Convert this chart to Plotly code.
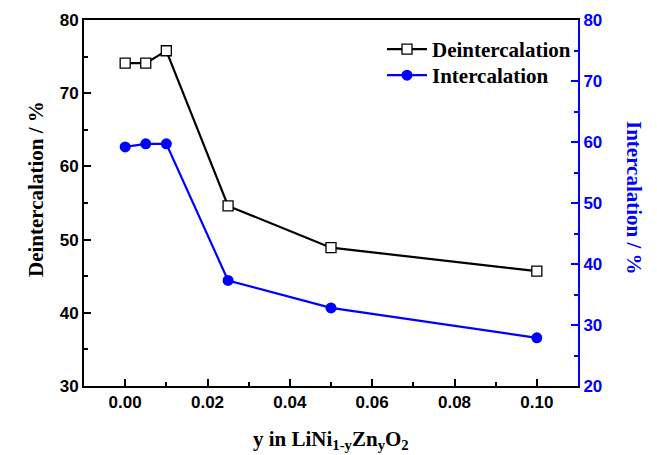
import plotly.graph_objects as go

y_frac = [0.0, 0.005, 0.01, 0.025, 0.05, 0.10]
deintercalation = [74.1, 74.1, 75.8, 54.6, 48.9, 45.7]
intercalation = [59.2, 59.7, 59.7, 37.3, 32.8, 27.9]
x_ticks = [0.00, 0.02, 0.04, 0.06, 0.08, 0.10]
y_left_ticks = [30, 40, 50, 60, 70, 80]
y_right_ticks = [20, 30, 40, 50, 60, 70, 80]

tickfont_black = dict(family="Liberation Sans", size=17, color="black")
tickfont_blue = dict(family="Liberation Sans", size=17, color="blue")
serif = "Liberation Serif"

W, H = 657, 455
L, R, T, B = 84, 79, 20, 69
pw = W - L - R
ph = H - T - B

fig = go.Figure()
fig.add_trace(go.Scatter(
    x=y_frac, y=deintercalation, name="<b>Deintercalation</b>", mode="lines+markers",
    line=dict(color="black", width=2.2),
    marker=dict(symbol="square", size=10, color="white", line=dict(color="black", width=1.3)),
    yaxis="y", legend="legend"))
fig.add_trace(go.Scatter(
    x=y_frac, y=intercalation, name="<b>Intercalation</b>", mode="lines+markers",
    line=dict(color="blue", width=2.2),
    marker=dict(symbol="circle", size=11, color="blue"),
    yaxis="y2", legend="legend2"))

leg_common = dict(xanchor="left", yanchor="top", bgcolor="rgba(0,0,0,0)",
                  font=dict(family=serif, size=21, color="black"), itemwidth=40)

fig.update_layout(
    width=W, height=H, margin=dict(l=L, r=R, t=T, b=B),
    paper_bgcolor="white", plot_bgcolor="white",
    showlegend=True,
    legend=dict(x=(382 - L) / pw, y=1 - (29 - T) / ph, **leg_common),
    legend2=dict(x=(382 - L) / pw, y=1 - (55 - T) / ph, **leg_common),
    xaxis=dict(range=[-0.01, 0.11], tickvals=x_ticks, ticktext=["<b>%.2f</b>" % v for v in x_ticks],
               ticks="inside", ticklen=7, tickwidth=1.5, tickcolor="black",
               minor=dict(ticks="inside", ticklen=4, dtick=0.01, tick0=0, tickcolor="black", tickwidth=1.5),
               showline=True, linecolor="black", linewidth=2, mirror=True,
               showgrid=False, zeroline=False, tickfont=tickfont_black),
    yaxis=dict(range=[30, 80], tickvals=y_left_ticks, ticktext=["<b>%d</b>" % v for v in y_left_ticks],
               ticks="inside", ticklen=7, tickwidth=1.5, tickcolor="black",
               minor=dict(ticks="inside", ticklen=4, dtick=5, tick0=30, tickcolor="black", tickwidth=1.5),
               showline=True, linecolor="black", linewidth=2,
               showgrid=False, zeroline=False, tickfont=tickfont_black),
    yaxis2=dict(range=[20, 80], tickvals=y_right_ticks, ticktext=["<b>%d</b>" % v for v in y_right_ticks],
                overlaying="y", side="right",
                ticks="inside", ticklen=7, tickwidth=1.5, tickcolor="blue",
                minor=dict(ticks="inside", ticklen=4, dtick=5, tick0=20, tickcolor="blue", tickwidth=1.5),
                showline=True, linecolor="blue", linewidth=2,
                showgrid=False, zeroline=False, tickfont=tickfont_blue),
    annotations=[
        dict(text="<b>Deintercalation / %</b>", xref="paper", yref="paper",
             x=(36 - L) / pw, y=1 - (189 - T) / ph, xanchor="center", yanchor="middle",
             textangle=-90, showarrow=False,
             font=dict(family=serif, size=21, color="black")),
        dict(text="<b>Intercalation / %</b>", xref="paper", yref="paper",
             x=(634 - L) / pw, y=1 - (198 - T) / ph, xanchor="center", yanchor="middle",
             textangle=90, showarrow=False,
             font=dict(family=serif, size=21, color="blue")),
        dict(text="<b>y in LiNi<sub>1-y</sub>Zn<sub>y</sub>O<sub>2</sub></b>", xref="paper", yref="paper",
             x=0.5, y=-(440 - (H - B)) / ph, xanchor="center", yanchor="middle",
             showarrow=False,
             font=dict(family=serif, size=21, color="black")),
    ],
)

fig.write_html("out.html")
